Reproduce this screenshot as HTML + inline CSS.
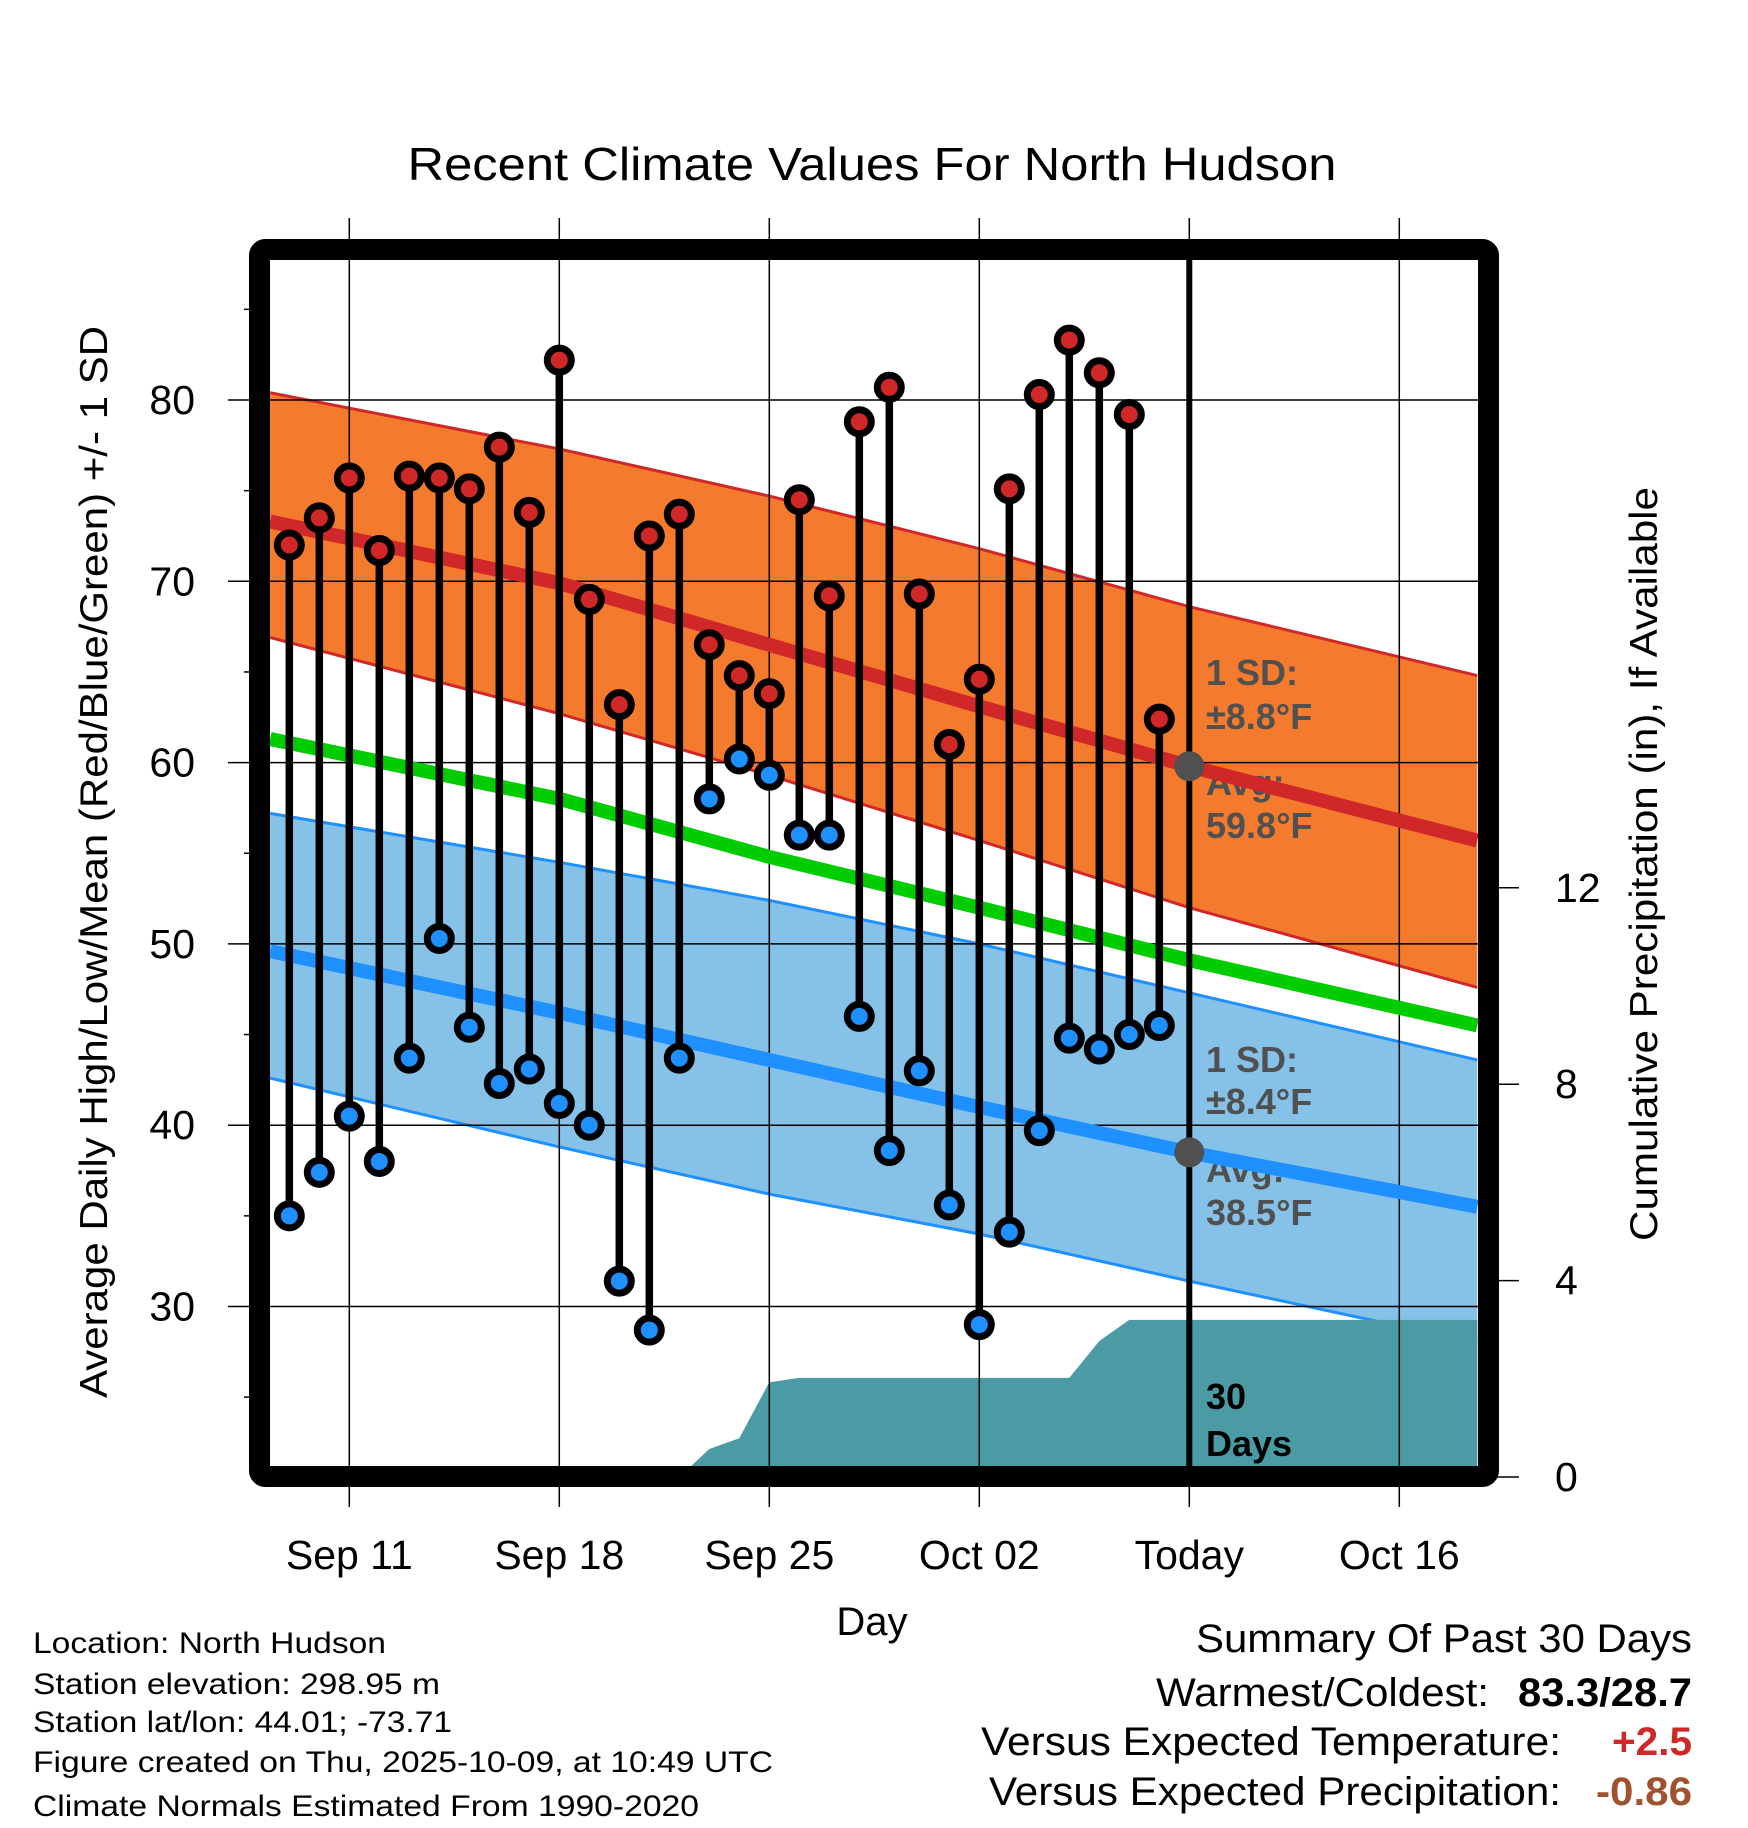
<!DOCTYPE html>
<html><head><meta charset="utf-8"><style>
html,body{margin:0;padding:0;background:#fff;}
svg{display:block;font-family:"Liberation Sans",sans-serif;}
</style></head><body>
<svg id="chart" width="1748" height="1828" viewBox="0 0 1748 1828" xmlns="http://www.w3.org/2000/svg">
<defs><clipPath id="plotclip"><rect x="270" y="260" width="1208" height="1206"/></clipPath></defs>
<rect width="1748" height="1828" fill="#fff"/>
<text x="872" y="180" font-size="46" text-anchor="middle" textLength="929" lengthAdjust="spacingAndGlyphs">Recent Climate Values For North Hudson</text>
<g id="bands" clip-path="url(#plotclip)"></g>
<g id="grid"></g>
<g id="annot"></g>
<g id="marks" clip-path="url(#plotclip)"></g>
<rect x="259.5" y="249.5" width="1229" height="1227" rx="6" fill="none" stroke="#000" stroke-width="21"/>
<g id="axes"></g>
<text x="872" y="1635" font-size="40" text-anchor="middle">Day</text>
<text transform="translate(107,862) rotate(-90)" font-size="39" text-anchor="middle" textLength="1072" lengthAdjust="spacingAndGlyphs">Average Daily High/Low/Mean (Red/Blue/Green) +/- 1 SD</text>
<text transform="translate(1657,864) rotate(-90)" font-size="39" text-anchor="middle" textLength="754" lengthAdjust="spacingAndGlyphs">Cumulative Precipitation (in), If Available</text>
<g font-size="30">
<text x="33" y="1653" textLength="353" lengthAdjust="spacingAndGlyphs">Location: North Hudson</text>
<text x="33" y="1694" textLength="407" lengthAdjust="spacingAndGlyphs">Station elevation: 298.95 m</text>
<text x="33" y="1732" textLength="419" lengthAdjust="spacingAndGlyphs">Station lat/lon: 44.01; -73.71</text>
<text x="33" y="1772" textLength="740" lengthAdjust="spacingAndGlyphs">Figure created on Thu, 2025-10-09, at 10:49 UTC</text>
<text x="33" y="1816" textLength="666" lengthAdjust="spacingAndGlyphs">Climate Normals Estimated From 1990-2020</text>
</g>
<g font-size="40">
<text x="1692" y="1652" text-anchor="end" textLength="496" lengthAdjust="spacingAndGlyphs">Summary Of Past 30 Days</text>
<text x="1489" y="1706" text-anchor="end" textLength="333" lengthAdjust="spacingAndGlyphs">Warmest/Coldest:</text>
<text x="1692" y="1706" text-anchor="end" font-weight="bold" textLength="174" lengthAdjust="spacingAndGlyphs">83.3/28.7</text>
<text x="1561" y="1755" text-anchor="end" textLength="580" lengthAdjust="spacingAndGlyphs">Versus Expected Temperature:</text>
<text x="1692" y="1755" text-anchor="end" font-weight="bold" fill="#d02828" textLength="80" lengthAdjust="spacingAndGlyphs">+2.5</text>
<text x="1561" y="1805" text-anchor="end" textLength="572" lengthAdjust="spacingAndGlyphs">Versus Expected Precipitation:</text>
<text x="1692" y="1805" text-anchor="end" font-weight="bold" fill="#a0522d" textLength="96" lengthAdjust="spacingAndGlyphs">-0.86</text>
</g>
</svg>
<script>
// ---- data ----
const obsDays = [-2,-1,0,1,2,3,4,5,6,7,8,9,10,11,12,13,14,15,16,17,18,19,20,21,22,23,24,25,26,27];
const highs = [72.0,73.5,75.7,71.7,75.8,75.7,75.1,77.4,73.8,82.2,69.0,63.2,72.5,73.7,66.5,64.8,63.8,74.5,69.2,78.8,80.7,69.3,61.0,64.6,75.1,80.3,83.3,81.5,79.2,62.4];
const lows = [35.0,37.4,40.5,38.0,43.7,50.3,45.4,42.3,43.1,41.2,40.0,31.4,28.7,43.7,58.0,60.2,59.3,56.0,56.0,46.0,38.6,43.0,35.6,29.0,34.1,39.7,44.8,44.2,45.0,45.5];
const normDays = [-2.64,7,14,21,28,37.6];
const normHigh = [73.3,69.9,66.5,63.1,59.8,55.7];
const normHighUp = [80.4,77.3,74.7,71.8,68.6,64.8];
const normHighLo = [66.9,62.7,59.3,55.7,52.0,47.6];
const normMean = [61.3,58.0,54.8,52.0,49.1,45.5];
const normLow = [49.6,46.2,43.6,41.0,38.5,35.5];
const normLowUp = [57.2,54.5,52.4,50.0,47.3,43.6];
const normLowLo = [42.6,38.8,36.2,34.0,31.4,28.0];
const precipDays = [11,12,13,14,15,24,25,26,37.6];
const precipVals = [0,0.57,0.79,1.93,2.02,2.02,2.77,3.2,3.2];
const yTicks = [30,40,50,60,70,80];
const yMinor = [25,35,45,55,65,75,85];
const y2Ticks = [0,4,8,12];
const xTickDays = [0,7,14,21,28,35];
const xTickLabels = ["Sep 11","Sep 18","Sep 25","Oct 02","Today","Oct 16"];
const todayDay = 28;
// ---- scales ----
const X = d => 349.3 + d*30;
const Y = v => 400 + (80 - v)*18.13;
const Y2 = p => 1477 - p*49.1;
const NS = "http://www.w3.org/2000/svg";
function mk(parent, tag, attrs){const e=document.createElementNS(NS,tag);for(const k in attrs)e.setAttribute(k,attrs[k]);parent.appendChild(e);return e;}
const bands=document.getElementById('bands'), grid=document.getElementById('grid'), marks=document.getElementById('marks'), annot=document.getElementById('annot'), axes=document.getElementById('axes');
const pts = arr => normDays.map((d,i)=>X(d)+','+Y(arr[i])).join(' ');
const band = (up,lo)=> normDays.map((d,i)=>X(d)+','+Y(up[i])).join(' ')+' '+normDays.slice().reverse().map((d,j)=>X(d)+','+Y(lo[lo.length-1-j])).join(' ');
let e;
e=mk(bands,'polygon',{points:band(normHighUp,normHighLo),fill:'#f47a2e'});


e=mk(bands,'polygon',{points:band(normLowUp,normLowLo),fill:'#86c1e8'});


[[normHighUp,'#d02828'],[normHighLo,'#d02828'],[normLowUp,'#1e90ff'],[normLowLo,'#1e90ff']].forEach(([a,c])=>{
  e=mk(bands,'polyline',{points:pts(a),fill:'none',stroke:c,'stroke-width':3});
  
  
});
// precip
let pp = X(precipDays[0])+','+Y2(0)+' '+precipDays.map((d,i)=>X(d)+','+Y2(precipVals[i])).join(' ')+' '+X(precipDays[precipDays.length-1])+','+Y2(0);
e=mk(bands,'polygon',{points:pp,fill:'#4a9ba3'});


// grid
yTicks.forEach(v=>{
  e=mk(grid,'line',{x1:228,x2:1478,y1:Y(v),y2:Y(v),stroke:'#000','stroke-width':1.5});
  
  
  e=mk(axes,'text',{x:195,y:Y(v)+14,'font-size':41,'text-anchor':'end'});
  e.textContent=v;
  
  
});
yMinor.forEach(v=>{
  e=mk(axes,'line',{x1:244,x2:252,y1:Y(v),y2:Y(v),stroke:'#000','stroke-width':1.5});
  
  
});
xTickDays.forEach((d,i)=>{
  e=mk(grid,'line',{x1:X(d),x2:X(d),y1:218,y2:1507,stroke:'#000','stroke-width':1.5});
  
  
  e=mk(axes,'text',{x:X(d),y:1569,'font-size':41,'text-anchor':'middle'});
  e.textContent=xTickLabels[i];
  
  
});
y2Ticks.forEach(p=>{
  e=mk(axes,'line',{x1:1488,x2:1519,y1:Y2(p),y2:Y2(p),stroke:'#000','stroke-width':1.5});
  
  
  e=mk(axes,'text',{x:1555,y:Y2(p)+14,'font-size':41});
  e.textContent=p;
  
  
});
// annotations (drawn under the lines)
const ann=[["1 SD:",685,'#505050'],["±8.8°F",729,'#505050'],["Avg:",795,'#505050'],["59.8°F",838,'#505050'],["1 SD:",1072,'#505050'],["±8.4°F",1114,'#505050'],["Avg:",1182,'#505050'],["38.5°F",1225,'#505050'],["30",1409,'#000'],["Days",1456,'#000']];
ann.forEach(([t,y,c])=>{
  e=mk(annot,'text',{x:1206,y:y,'font-size':36,'font-weight':'bold',fill:c});
  e.textContent=t;
  
  
});
// normal lines
[[normMean,'#00cc00','mean-normal-line'],[normHigh,'#d02828','high-normal-line'],[normLow,'#1e90ff','low-normal-line']].forEach(([a,c,n])=>{
  e=mk(marks,'polyline',{points:pts(a),fill:'none',stroke:c,'stroke-width':14});
  
  
});
// today line
e=mk(marks,'line',{x1:X(todayDay),x2:X(todayDay),y1:250,y2:1470,stroke:'#000','stroke-width':6});


// stems and dots
obsDays.forEach((d,i)=>{
  e=mk(marks,'line',{x1:X(d),x2:X(d),y1:Y(highs[i]),y2:Y(lows[i]),stroke:'#000','stroke-width':7.5});
  
  
});
obsDays.forEach((d,i)=>{
  e=mk(marks,'circle',{cx:X(d),cy:Y(highs[i]),r:12,fill:'#d02828',stroke:'#000','stroke-width':7});
  
  
  e=mk(marks,'circle',{cx:X(d),cy:Y(lows[i]),r:12,fill:'#1e90ff',stroke:'#000','stroke-width':7});
  
  
});
const hiToday = normHigh[4], loToday = normLow[4];
e=mk(marks,'circle',{cx:X(todayDay),cy:Y(hiToday),r:15,fill:'#505050'});


e=mk(marks,'circle',{cx:X(todayDay),cy:Y(loToday),r:15,fill:'#505050'});


</script>
</body></html>
